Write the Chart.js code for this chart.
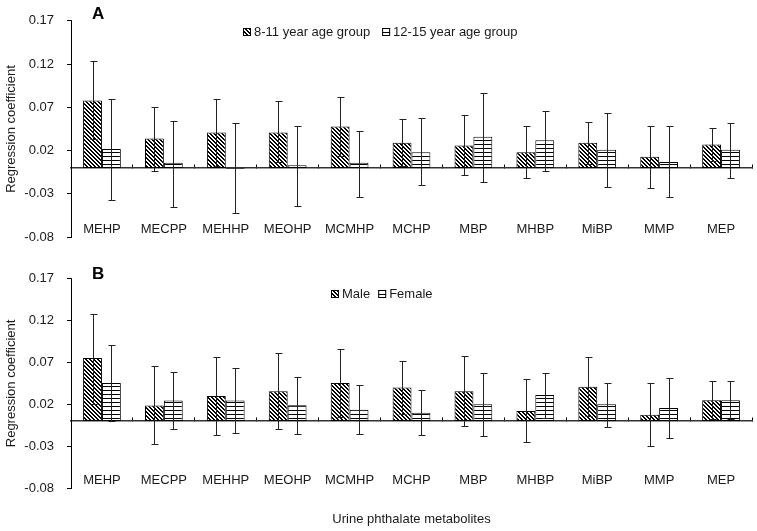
<!DOCTYPE html>
<html>
<head>
<meta charset="utf-8">
<script src="https://cdn.jsdelivr.net/npm/chart.js"></script>
<style>
body { margin: 0; background: #fff; }
#wrap { position: relative; width: 757px; height: 531px; }
canvas { position: absolute; left: 0; }
#chartA { top: 0; }
#chartB { top: 258px; }
</style>
</head>
<body>
<div id="wrap">
  <canvas id="chartA" width="757" height="258"></canvas>
  <canvas id="chartB" width="757" height="273"></canvas>
</div>
<script>
// categories and tick labels
const metabolites = ['MEHP', 'MECPP', 'MEHHP', 'MEOHP', 'MCMHP', 'MCHP', 'MBP', 'MHBP', 'MiBP', 'MMP', 'MEP'];
const y_ticks = [-0.08, -0.03, 0.02, 0.07, 0.12, 0.17];

// panel A - age groups (coefficient, lower and upper limits)
const age_8_11    = [0.078, 0.034, 0.041, 0.041, 0.048, 0.029, 0.026, 0.018, 0.029, 0.013, 0.027];
const age_8_11_lo = [0.034, -0.004, 0.002, 0.007, 0.014, 0.002, -0.008, -0.012, 0.005, -0.023, 0.008];
const age_8_11_hi = [0.123, 0.070, 0.080, 0.077, 0.082, 0.056, 0.061, 0.049, 0.053, 0.048, 0.046];

const age_12_15    = [0.022, 0.006, -0.001, 0.003, 0.006, 0.018, 0.036, 0.032, 0.021, 0.007, 0.021];
const age_12_15_lo = [-0.037, -0.045, -0.052, -0.044, -0.034, -0.020, -0.016, -0.003, -0.022, -0.034, -0.012];
const age_12_15_hi = [0.080, 0.054, 0.052, 0.049, 0.043, 0.058, 0.087, 0.066, 0.063, 0.049, 0.052];

// panel B - sex
const male    = [0.0755, 0.0185, 0.030, 0.0355, 0.0455, 0.040, 0.0355, 0.012, 0.041, 0.0075, 0.025];
const male_lo = [0.020, -0.028, -0.017, -0.009, 0.005, 0.008, -0.0055, -0.025, 0.006, -0.030, 0.002];
const male_hi = [0.128, 0.066, 0.077, 0.081, 0.0865, 0.072, 0.0775, 0.050, 0.076, 0.045, 0.048];

const female    = [0.0455, 0.0245, 0.0245, 0.019, 0.0135, 0.010, 0.020, 0.031, 0.020, 0.0155, 0.025];
const female_lo = [0.000, -0.010, -0.014, -0.015, -0.015, -0.0165, -0.018, 0.004, -0.007, -0.020, 0.003];
const female_hi = [0.091, 0.059, 0.063, 0.053, 0.043, 0.037, 0.057, 0.0575, 0.045, 0.052, 0.048];

const FONT = "'Liberation Sans', Arial, sans-serif";
Chart.defaults.font.family = FONT;
Chart.defaults.font.size = 13;
Chart.defaults.color = '#1a1a1a';

// hatch fills
function hatch(ctx, kind) {
  const c = document.createElement('canvas');
  c.width = 4; c.height = 4;
  const g = c.getContext('2d');
  g.fillStyle = '#fff';
  g.fillRect(0, 0, 4, 4);
  g.fillStyle = '#000';
  if (kind === 'diag') {
    for (let i = 0; i < 4; i++) {
      g.fillRect(i, i, 1, 1);
      g.fillRect((i + 1) % 4, i, 1, 1);
    }
  } else {
    g.fillRect(0, 0, 4, 1);
  }
  return ctx.createPattern(c, 'repeat');
}

// error bars from the lo / hi arrays of each dataset
const errorBars = {
  id: 'errorBars',
  afterDatasetsDraw(chart, args, opts) {
    const ctx = chart.ctx;
    const y = chart.scales.y;
    ctx.save();
    ctx.strokeStyle = '#222';
    ctx.lineWidth = 1;
    chart.data.datasets.forEach((ds, i) => {
      chart.getDatasetMeta(i).data.forEach((bar, j) => {
        const x = Math.round(bar.x) + 0.5;
        const top = Math.round(y.getPixelForValue(ds.hi[j])) + 0.5;
        const bot = Math.round(y.getPixelForValue(ds.lo[j])) + 0.5;
        ctx.beginPath();
        ctx.moveTo(x, top); ctx.lineTo(x, bot);
        ctx.moveTo(x - 3, top); ctx.lineTo(x + 4, top);
        ctx.moveTo(x - 3, bot); ctx.lineTo(x + 4, bot);
        ctx.stroke();
      });
    });
    ctx.restore();
  }
};

// legend inside the plot + panel letter
const hatchLegend = {
  id: 'hatchLegend',
  afterDraw(chart, args, opts) {
    const ctx = chart.ctx;
    ctx.save();
    ctx.textBaseline = 'middle';
    ctx.fillStyle = '#000';
    ctx.font = 'bold 17px ' + FONT;
    ctx.fillText(opts.panel, opts.panelX, opts.panelY);
    ctx.font = '13px ' + FONT;
    let x = opts.x;
    chart.data.datasets.forEach(ds => {
      ctx.fillStyle = ds.backgroundColor;
      ctx.fillRect(x, opts.y - 4, 8, 8);
      ctx.strokeStyle = '#000';
      ctx.strokeRect(x + 0.5, opts.y - 3.5, 7, 7);
      ctx.fillStyle = '#1a1a1a';
      ctx.fillText(ds.label, x + 11, opts.y);
      x += 11 + ctx.measureText(ds.label).width + opts.gap;
    });
    ctx.restore();
  }
};

function drawPanel(id, sets, extra) {
  const ctx = document.getElementById(id).getContext('2d');
  return new Chart(ctx, {
    type: 'bar',
    data: {
      labels: metabolites,
      datasets: sets.map((s, i) => ({
        label: s.label,
        data: s.values,
        lo: s.lo,
        hi: s.hi,
        backgroundColor: hatch(ctx, i === 0 ? 'diag' : 'horiz'),
        borderColor: '#000',
        borderWidth: 1,
        borderSkipped: false,
        barPercentage: 1,
        categoryPercentage: 0.61
      }))
    },
    options: {
      responsive: false,
      animation: false,
      layout: { padding: { top: extra.top, right: 5, bottom: 0, left: 0 } },
      plugins: {
        legend: { display: false },
        tooltip: { enabled: false },
        hatchLegend: extra.legend
      },
      scales: {
        x: {
          position: 'bottom',
          grid: { display: false, drawTicks: false },
          border: { display: false },
          // mirrored so the names sit inside the plot, above the bottom edge
          ticks: { mirror: true, padding: extra.labelPad, maxRotation: 0, autoSkip: false },
          title: {
            display: extra.showTitle,
            text: 'Urine phthalate metabolites',
            padding: { top: 0, bottom: 4 }
          },
          afterFit: s => { s.height = extra.xHeight; }
        },
        x2: {
          type: 'category',
          axis: 'x',
          labels: metabolites,
          position: { y: 0 },
          offset: true,
          grid: { offset: true, drawOnChartArea: false, drawTicks: true, tickLength: -4, color: '#000' },
          border: { color: '#333', width: 1.5 },
          ticks: { display: false },
          afterFit: s => { s.height = 0; }
        },
        y: {
          min: -0.08,
          max: 0.17,
          afterBuildTicks: s => { s.ticks = y_ticks.map(v => ({ value: v })); },
          ticks: { callback: v => v.toFixed(2), padding: 13 },
          grid: { drawOnChartArea: false, tickLength: 4, color: '#000' },
          border: { color: '#000' },
          title: { display: true, text: 'Regression coefficient', padding: { top: 4, bottom: 4 } },
          afterFit: s => { s.width = 71; }
        }
      }
    },
    plugins: [errorBars, hatchLegend]
  });
}

drawPanel('chartA', [
  { label: '8-11 year age group', values: age_8_11, lo: age_8_11_lo, hi: age_8_11_hi },
  { label: '12-15 year age group', values: age_12_15, lo: age_12_15_lo, hi: age_12_15_hi }
], {
  top: 16, xHeight: 17, labelPad: 0, showTitle: false,
  legend: { panel: 'A', panelX: 92, panelY: 14, x: 243, y: 32, gap: 12 }
});

drawPanel('chartB', [
  { label: 'Male', values: male, lo: male_lo, hi: male_hi },
  { label: 'Female', values: female, lo: female_lo, hi: female_hi }
], {
  top: 18, xHeight: 43, labelPad: 0, showTitle: true,
  legend: { panel: 'B', panelX: 92, panelY: 16, x: 331, y: 36, gap: 8 }
});
</script>
</body>
</html>
